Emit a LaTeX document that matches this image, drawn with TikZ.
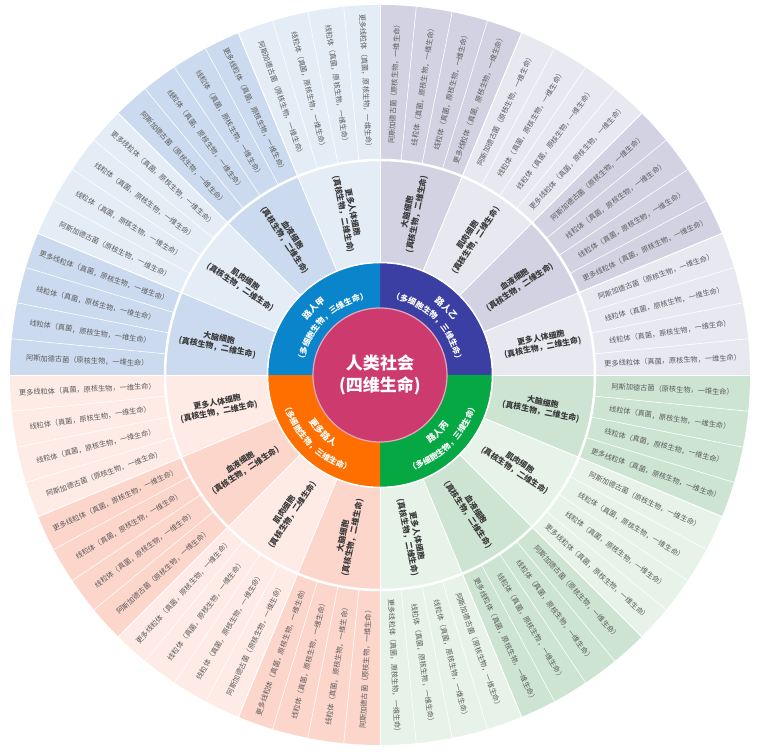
\documentclass[tikz,border=0pt]{standalone}
\usepackage{fontspec}
\setmainfont{Noto Sans CJK SC}
\usetikzlibrary{decorations.text}
\definecolor{ccore}{HTML}{CD3A6E}
\definecolor{cjia}{HTML}{0A85CB}
\definecolor{cyi}{HTML}{3B3FA3}
\definecolor{cbing}{HTML}{05A843}
\definecolor{cmore}{HTML}{FF6F00}
\definecolor{yiD}{HTML}{D2D2E3}
\definecolor{yiL}{HTML}{E8E8F1}
\definecolor{bingD}{HTML}{CDE4D2}
\definecolor{bingL}{HTML}{E7F3E9}
\definecolor{moreD}{HTML}{FDD6CB}
\definecolor{moreL}{HTML}{FEEBE6}
\definecolor{jiaD}{HTML}{CBDAEE}
\definecolor{jiaL}{HTML}{E4ECF6}
\definecolor{cellgray}{HTML}{3A3A3A}
\definecolor{seggray}{HTML}{5C5C5C}
\newcommand\ringfont{\fontsize{9}{10}\selectfont\bfseries}
\newcommand\ringsmall{\fontsize{8.2}{9}\selectfont\bfseries}

\begin{document}
\begin{tikzpicture}[x=1pt, y=1pt,
  cell/.style={font=\fontsize{8}{9.5}\selectfont\bfseries, text=cellgray, align=center, inner sep=0pt},
  seg/.style={font=\fontsize{7.2}{8}\selectfont, text=seggray, inner sep=0pt},
  cut/.style={white, line width=0.6pt},
  arctext/.style={decorate, decoration={text along path, text align=center, text color=white}}]
\fill[white] (-380,-379) rectangle (380,375);
% quadrants: 0 = 路人乙, 1 = 路人丙, 2 = 更多路人, 3 = 路人甲
\foreach \k/\dk/\lt in {0/yiD/yiL,1/bingD/bingL,2/moreD/moreL,3/jiaD/jiaL}{
  \foreach \j/\cname in {0/大脑细胞,1/肌肉细胞,2/血液细胞,3/更多人体细胞}{
    \pgfmathsetmacro\aa{90-90*\k-22.5*\j}
    \pgfmathsetmacro\ab{\aa-22.5}
    \pgfmathsetmacro\am{\aa-11.25}
    \pgfmathsetmacro\rot{\am>-90 ? \am : \am+180}
    \ifodd\j\def\fc{\lt}\else\def\fc{\dk}\fi
    \fill[\fc] (\aa:113) arc[start angle=\aa, end angle=\ab, radius=113] -- (\ab:370) arc[start angle=\ab, end angle=\aa, radius=370] -- cycle;
    \node[cell, rotate=\rot] (cell-\k-\j) at (\am:165) {\cname\\(真核生物，二维生命)};
    \foreach \i/\sname in {0/阿斯加德古菌（原核生物，一维生命）,1/线粒体（真菌，原核生物，一维生命）,2/线粒体（真菌，原核生物，一维生命）,3/更多线粒体（真菌，原核生物，一维生命）}{
      \pgfmathsetmacro\sm{\aa-5.625*\i-2.8125}
      \pgfmathsetmacro\srot{\sm>-90 ? \sm : \sm+180}
      \node[seg, rotate=\srot] (seg-\k-\j-\i) at (\sm:293) {\sname};
      \draw[cut] (\aa-5.625*\i:216) -- (\aa-5.625*\i:370);
    }
    \draw[white, line width=0.9pt] (\aa:113) -- (\aa:370);
  }
}
\draw[white, line width=2.5pt] (0,0) circle[radius=215];
% inner ring
\fill[cyi] (0,0) -- (90:112) arc[start angle=90, end angle=0, radius=112] -- cycle;
\fill[cbing] (0,0) -- (0:112) arc[start angle=0, end angle=-90, radius=112] -- cycle;
\fill[cmore] (0,0) -- (-90:112) arc[start angle=-90, end angle=-180, radius=112] -- cycle;
\fill[cjia] (0,0) -- (180:112) arc[start angle=180, end angle=90, radius=112] -- cycle;
\draw[white, line width=1.5pt] (0,0) circle[radius=112.5];
\path[arctext, decoration={text={|\ringfont|路人乙}}] (87:91) arc[start angle=87, end angle=3, radius=91];
\path[arctext, decoration={text={|\ringsmall|（多细胞生物，三维生命）}}] (89:77) arc[start angle=89, end angle=1, radius=77];
\path[arctext, decoration={text={|\ringfont|路人甲}}] (177:91) arc[start angle=177, end angle=93, radius=91];
\path[arctext, decoration={text={|\ringsmall|（多细胞生物，三维生命）}}] (179:77) arc[start angle=179, end angle=91, radius=77];
\path[arctext, decoration={text={|\ringfont|路人丙}}] (-87:85) arc[start angle=-87, end angle=-3, radius=85];
\path[arctext, decoration={text={|\ringsmall|（多细胞生物，三维生命）}}] (-88:101) arc[start angle=-88, end angle=-2, radius=101];
\path[arctext, decoration={text={|\ringfont|更多路人}}] (-177:85) arc[start angle=-177, end angle=-93, radius=85];
\path[arctext, decoration={text={|\ringsmall|（多细胞生物，三维生命）}}] (-178:101) arc[start angle=-178, end angle=-92, radius=101];
% core
\node[circle, fill=ccore, draw=ccore!45!white, line width=1.2pt, minimum size=134pt, inner sep=0pt,
  font=\fontsize{17}{22}\selectfont\bfseries, text=white, align=center] (core) at (0,0) {人类社会\\(四维生命)};
\end{tikzpicture}
\end{document}
